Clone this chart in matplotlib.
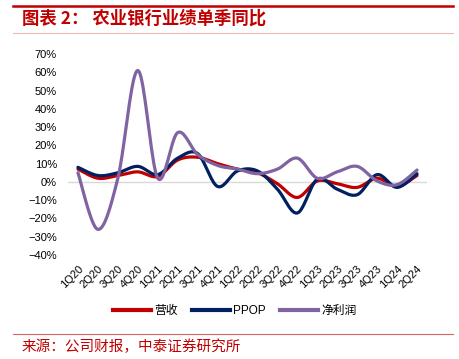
import matplotlib
matplotlib.use("Agg")
import matplotlib.pyplot as plt
import numpy as np
from matplotlib.lines import Line2D
from matplotlib.ticker import FuncFormatter

plt.rcParams['font.family'] = ['Liberation Sans', 'Noto Sans CJK SC', 'DejaVu Sans']

quarters = ['1Q20', '2Q20', '3Q20', '4Q20', '1Q21', '2Q21', '3Q21', '4Q21', '1Q22',
            '2Q22', '3Q22', '4Q22', '1Q23', '2Q23', '3Q23', '4Q23', '1Q24', '2Q24']
revenue = [7, 2, 3.5, 5.5, 3, 12, 13.5, 10, 7, 5, -1, -8.5, 0.5, -1, -3, 2, -2.5, 3.5]
ppop = [8, 3.5, 5, 8.5, 4, 13, 15.5, -2.5, 6, 6, -4, -17, 1.5, -4, -7, 4, -3, 4.5]
net_profit = [5, -26, 2, 61, 2, 27, 15, 9, 7, 4.5, 7, 13, 2, 5.5, 8.5, 0.5, -1.5, 6.5]

series_names = ['营收', 'PPOP', '净利润']
colors = ['#C00000', '#002060', '#8064A2']


def smooth(y, n=20):
    # Catmull-Rom style smoothing, like the spreadsheet "smoothed line"
    y = np.asarray(y, float)
    x = np.arange(len(y), dtype=float)
    px = np.concatenate([[x[0]], x, [x[-1]]])
    py = np.concatenate([[y[0]], y, [y[-1]]])
    xs, ys = [], []
    for i in range(1, len(px) - 2):
        p0, p1, p2, p3 = (np.array([px[j], py[j]]) for j in range(i - 1, i + 3))
        c1 = p1 + (p2 - p0) / 6
        c2 = p2 - (p3 - p1) / 6
        t = np.linspace(0, 1, n)[:, None]
        b = (1 - t) ** 3 * p1 + 3 * (1 - t) ** 2 * t * c1 + 3 * (1 - t) * t ** 2 * c2 + t ** 3 * p2
        xs.append(b[:, 0])
        ys.append(b[:, 1])
    return np.concatenate(xs), np.concatenate(ys)


def pct(v, p):
    v = int(round(v * 100))
    return f'{v}%'.replace('-', '\u2212')


fig = plt.figure(figsize=(4.6, 3.59), dpi=100)
W, H = 460, 359
ax = fig.add_axes([68 / W, 1 - 255 / H, (427 - 68) / W, (255 - 54) / H])

for vals, c in zip([revenue, ppop, net_profit], colors):
    sx, sy = smooth(vals)
    ax.plot(sx, np.array(sy) / 100, color=c, lw=2.3, solid_capstyle='round', zorder=3)

ax.axhline(0, color='#D9D9D9', lw=1, zorder=1)
ax.set_xlim(-0.5, len(quarters) - 0.5)
ax.set_ylim(-0.4, 0.7)
ax.set_yticks(np.arange(-0.4, 0.71, 0.1))
ax.yaxis.set_major_formatter(FuncFormatter(pct))
ax.set_xticks(range(len(quarters)))
ax.set_xticklabels(quarters, rotation=45, ha='right', rotation_mode='anchor')
for s in ax.spines.values():
    s.set_visible(False)
ax.tick_params(length=0, labelsize=8, colors='black')
ax.tick_params(axis='x', pad=6)
ax.tick_params(axis='y', pad=8)

handles = [Line2D([0], [0], color=c, lw=3) for c in colors]
fig.legend(handles, series_names, loc='center', bbox_to_anchor=(235 / W, 1 - 311 / H),
           ncol=3, frameon=False, fontsize=8.5, handlelength=3.2, columnspacing=1.2,
           handletextpad=0.3)

# header and footer decorations
fig.add_artist(Line2D([13 / W, 453 / W], [1 - 6 / H, 1 - 6 / H], color='#C00000', lw=1.8))
fig.add_artist(Line2D([13 / W, 453 / W], [1 - 33 / H, 1 - 33 / H], color='#F2B8B8', lw=0.8))
fig.add_artist(Line2D([13 / W, 453 / W], [1 - 334 / H, 1 - 334 / H], color='#E06060', lw=0.8))
fig.text(22 / W, 1 - 19 / H, '图表 2： 农业银行业绩单季同比', color='#C00000', fontsize=12.5,
         fontweight='bold', style='italic', va='center',
         family=['Noto Sans CJK SC', 'DejaVu Sans'])
fig.text(22 / W, 1 - 347 / H, '来源：公司财报，中泰证券研究所', color='#C00000', fontsize=10.5,
         va='center', family=['Noto Sans CJK SC', 'DejaVu Sans'])

fig.savefig('out.png', dpi=100)
